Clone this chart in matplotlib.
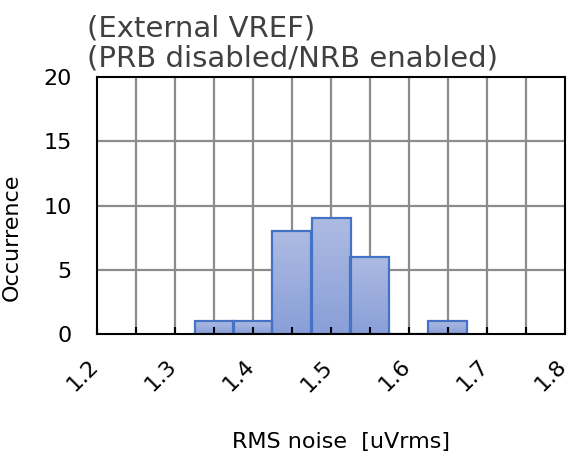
import numpy as np
import matplotlib
matplotlib.use("Agg")
from matplotlib import pyplot as plt
from matplotlib.colors import LinearSegmentedColormap
from matplotlib.ticker import MultipleLocator
import matplotlib.transforms as mtransforms

# data
bin_centers = [1.35, 1.40, 1.45, 1.50, 1.55, 1.60, 1.65]
counts = [1, 1, 8, 9, 6, 0, 1]
bin_width = 0.05
title_lines = ["(External VREF)", "(PRB disabled/NRB enabled)"]

plt.rcParams['font.family'] = ['DejaVu Sans']

fig = plt.figure(figsize=(5.69, 4.51), dpi=100)
ax = fig.add_axes([97/569, 1-334/451, 468/569, 257/451])

grad = LinearSegmentedColormap.from_list('bar', ['#8a9fd8', '#adbbe3'])

bars = ax.bar(bin_centers, counts, width=bin_width, facecolor='none',
              edgecolor='#4472c4', linewidth=1.6, zorder=2)
g = np.linspace(0, 1, 64).reshape(-1, 1)
for p in bars.patches:
    if p.get_height() == 0:
        continue
    x0, y0 = p.get_x(), p.get_y()
    im = ax.imshow(g, cmap=grad, origin='lower', aspect='auto', zorder=1,
                   extent=(x0, x0 + p.get_width(), y0, y0 + p.get_height()),
                   interpolation='bilinear')
    im.set_clip_path(p)

ax.set_xlim(1.2, 1.8)
ax.set_ylim(0, 20)
ax.xaxis.set_major_locator(MultipleLocator(0.1))
ax.xaxis.set_minor_locator(MultipleLocator(0.05))
ax.yaxis.set_major_locator(MultipleLocator(5))

# grid drawn behind bars, ticks stay on top
for xv in np.arange(1.25, 1.8, 0.05):
    ax.axvline(xv, color='#8c8c8c', lw=1.6, zorder=0.5)
for yv in [5, 10, 15]:
    ax.axhline(yv, color='#8c8c8c', lw=1.6, zorder=0.5)

ax.tick_params(axis='x', which='both', direction='in', length=5, width=1.5,
               color='black', top=False)
ax.tick_params(axis='x', which='major', pad=16, labelsize=16)
ax.tick_params(axis='y', length=0, pad=18, labelsize=16)
ax.set_xticklabels([f"{v:.1f}" for v in ax.get_xticks()])
offset = mtransforms.ScaledTranslation(5/100, 0, fig.dpi_scale_trans)
for lab in ax.get_xticklabels():
    lab.set_rotation(45)
    lab.set_ha('right')
    lab.set_va('top')
    lab.set_transform(lab.get_transform() + offset)

for s in ax.spines.values():
    s.set_linewidth(1.5)
    s.set_color('black')

ax.set_xlabel("RMS noise  [uVrms]", fontsize=16)
ax.xaxis.set_label_coords(0.521, -0.381)
ax.set_ylabel("Occurrence", fontsize=16)
ax.yaxis.set_label_coords(-0.160, 0.375)

fig.text(87/569, 1-36/451, title_lines[0], fontsize=21, color='#404040',
         ha='left', va='baseline')
fig.text(87/569, 1-67/451, title_lines[1], fontsize=21, color='#404040',
         ha='left', va='baseline')

fig.savefig('out.png', dpi=100)
